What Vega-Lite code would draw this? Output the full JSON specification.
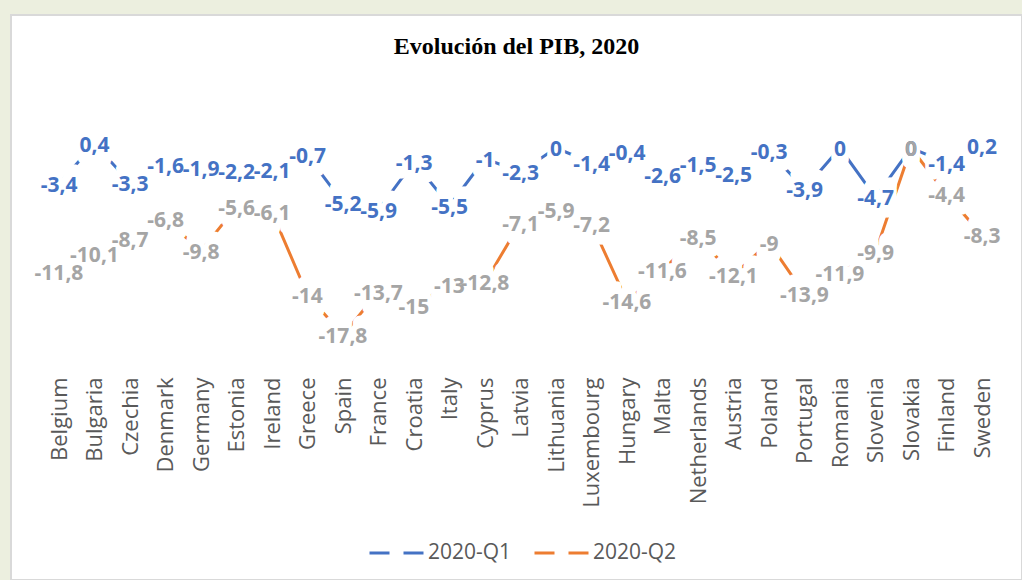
{
  "$schema": "https://vega.github.io/schema/vega-lite/v6.json",
  "width": 1011,
  "height": 565,
  "autosize": "none",
  "padding": {"left": 11, "top": 15, "right": 0, "bottom": 0},
  "background": "#ECEFDF",
  "config": {
    "view": {"fill": "#FFFFFF", "stroke": "#D9D9D9", "strokeWidth": 2},
    "locale": {"number": {"decimal": ",", "thousands": ".", "grouping": [3], "currency": ["", " €"], "minus": "-"}}
  },
  "title": {"text": "Evolución del PIB, 2020", "font": "Liberation Serif", "fontSize": 24, "fontWeight": "bold", "color": "#000000", "anchor": "middle", "offset": -63, "baseline": "alphabetic"},
  "data": {"values": [
    {"country": "Belgium", "series": "2020-Q1", "value": -3.4}, {"country": "Belgium", "series": "2020-Q2", "value": -11.8},
    {"country": "Bulgaria", "series": "2020-Q1", "value": 0.4}, {"country": "Bulgaria", "series": "2020-Q2", "value": -10.1},
    {"country": "Czechia", "series": "2020-Q1", "value": -3.3}, {"country": "Czechia", "series": "2020-Q2", "value": -8.7},
    {"country": "Denmark", "series": "2020-Q1", "value": -1.6}, {"country": "Denmark", "series": "2020-Q2", "value": -6.8},
    {"country": "Germany", "series": "2020-Q1", "value": -1.9}, {"country": "Germany", "series": "2020-Q2", "value": -9.8},
    {"country": "Estonia", "series": "2020-Q1", "value": -2.2}, {"country": "Estonia", "series": "2020-Q2", "value": -5.6},
    {"country": "Ireland", "series": "2020-Q1", "value": -2.1}, {"country": "Ireland", "series": "2020-Q2", "value": -6.1},
    {"country": "Greece", "series": "2020-Q1", "value": -0.7}, {"country": "Greece", "series": "2020-Q2", "value": -14},
    {"country": "Spain", "series": "2020-Q1", "value": -5.2}, {"country": "Spain", "series": "2020-Q2", "value": -17.8},
    {"country": "France", "series": "2020-Q1", "value": -5.9}, {"country": "France", "series": "2020-Q2", "value": -13.7},
    {"country": "Croatia", "series": "2020-Q1", "value": -1.3}, {"country": "Croatia", "series": "2020-Q2", "value": -15},
    {"country": "Italy", "series": "2020-Q1", "value": -5.5}, {"country": "Italy", "series": "2020-Q2", "value": -13},
    {"country": "Cyprus", "series": "2020-Q1", "value": -1}, {"country": "Cyprus", "series": "2020-Q2", "value": -12.8},
    {"country": "Latvia", "series": "2020-Q1", "value": -2.3}, {"country": "Latvia", "series": "2020-Q2", "value": -7.1},
    {"country": "Lithuania", "series": "2020-Q1", "value": 0}, {"country": "Lithuania", "series": "2020-Q2", "value": -5.9},
    {"country": "Luxembourg", "series": "2020-Q1", "value": -1.4}, {"country": "Luxembourg", "series": "2020-Q2", "value": -7.2},
    {"country": "Hungary", "series": "2020-Q1", "value": -0.4}, {"country": "Hungary", "series": "2020-Q2", "value": -14.6},
    {"country": "Malta", "series": "2020-Q1", "value": -2.6}, {"country": "Malta", "series": "2020-Q2", "value": -11.6},
    {"country": "Netherlands", "series": "2020-Q1", "value": -1.5}, {"country": "Netherlands", "series": "2020-Q2", "value": -8.5},
    {"country": "Austria", "series": "2020-Q1", "value": -2.5}, {"country": "Austria", "series": "2020-Q2", "value": -12.1},
    {"country": "Poland", "series": "2020-Q1", "value": -0.3}, {"country": "Poland", "series": "2020-Q2", "value": -9},
    {"country": "Portugal", "series": "2020-Q1", "value": -3.9}, {"country": "Portugal", "series": "2020-Q2", "value": -13.9},
    {"country": "Romania", "series": "2020-Q1", "value": 0}, {"country": "Romania", "series": "2020-Q2", "value": -11.9},
    {"country": "Slovenia", "series": "2020-Q1", "value": -4.7}, {"country": "Slovenia", "series": "2020-Q2", "value": -9.9},
    {"country": "Slovakia", "series": "2020-Q1", "value": 0}, {"country": "Slovakia", "series": "2020-Q2", "value": 0},
    {"country": "Finland", "series": "2020-Q1", "value": -1.4}, {"country": "Finland", "series": "2020-Q2", "value": -4.4},
    {"country": "Sweden", "series": "2020-Q1", "value": 0.2}, {"country": "Sweden", "series": "2020-Q2", "value": -8.3}
  ]},
  "encoding": {
    "x": {
      "field": "country", "type": "nominal",
      "scale": {"type": "point", "range": [48, 971], "padding": 0, "domain": ["Belgium", "Bulgaria", "Czechia", "Denmark", "Germany", "Estonia", "Ireland", "Greece", "Spain", "France", "Croatia", "Italy", "Cyprus", "Latvia", "Lithuania", "Luxembourg", "Hungary", "Malta", "Netherlands", "Austria", "Poland", "Portugal", "Romania", "Slovenia", "Slovakia", "Finland", "Sweden"]},
      "axis": {"title": null, "labelAngle": -90, "labelFont": "Open Sans", "labelFontSize": 22, "labelColor": "#595959", "ticks": false, "tickSize": 0, "domain": false, "grid": false, "labelPadding": 0, "offset": -203, "labelLimit": 300, "labelOverlap": false}
    },
    "y": {"field": "value", "type": "quantitative", "scale": {"domain": [-20, 2], "range": [343, 112], "nice": false, "zero": false}, "axis": null}
  },
  "layer": [
    {
      "data": {"values": [{}]},
      "mark": {"type": "rule", "color": "#D9D9D9", "strokeWidth": 1.5, "xOffset": -18, "x2Offset": 17},
      "encoding": {"x": {"datum": "Belgium"}, "x2": {"datum": "Sweden"}, "y": {"datum": 0}}
    },
    {
      "mark": {"type": "line", "strokeWidth": 3, "strokeCap": "butt"},
      "encoding": {
        "color": {"field": "series", "type": "nominal", "scale": {"domain": ["2020-Q1", "2020-Q2"], "range": ["#4472C4", "#ED7D31"]},
          "legend": {"title": null, "orient": "none", "legendX": 357, "legendY": 509, "direction": "horizontal", "symbolType": "stroke", "symbolSize": 3025, "symbolStrokeWidth": 3, "symbolDash": [20, 14], "labelFont": "Open Sans", "labelFontSize": 21, "labelColor": "#595959", "labelOffset": 2, "columnPadding": 16}}
      }
    },
    {"mark": {"type": "text", "font": "Open Sans", "fontSize": 21, "fontWeight": "bold", "fill": "#FFFFFF", "stroke": "#FFFFFF", "strokeWidth": 7, "strokeJoin": "round", "dy": -7}, "encoding": {"text": {"field": "value", "type": "quantitative", "format": ".1~f"}}},
    {"mark": {"type": "text", "font": "Open Sans", "fontSize": 21, "fontWeight": "bold", "fill": "#FFFFFF", "stroke": "#FFFFFF", "strokeWidth": 7, "strokeJoin": "round", "dy": -3}, "encoding": {"text": {"field": "value", "type": "quantitative", "format": ".1~f"}}},
    {"mark": {"type": "text", "font": "Open Sans", "fontSize": 21, "fontWeight": "bold", "fill": "#FFFFFF", "stroke": "#FFFFFF", "strokeWidth": 7, "strokeJoin": "round", "dy": 2}, "encoding": {"text": {"field": "value", "type": "quantitative", "format": ".1~f"}}},
    {"mark": {"type": "text", "font": "Open Sans", "fontSize": 21, "fontWeight": "bold", "fill": "#FFFFFF", "stroke": "#FFFFFF", "strokeWidth": 7, "strokeJoin": "round", "dy": 7}, "encoding": {"text": {"field": "value", "type": "quantitative", "format": ".1~f"}}},
    {"mark": {"type": "text", "font": "Open Sans", "fontSize": 21, "fontWeight": "bold", "fill": "#FFFFFF", "stroke": "#FFFFFF", "strokeWidth": 7, "strokeJoin": "round", "dy": 11}, "encoding": {"text": {"field": "value", "type": "quantitative", "format": ".1~f"}}},
    {
      "mark": {"type": "text", "font": "Open Sans", "fontSize": 21, "fontWeight": "bold", "dy": 2},
      "encoding": {
        "text": {"field": "value", "type": "quantitative", "format": ".1~f"},
        "color": {"condition": {"test": "datum.series === '2020-Q1'", "value": "#4472C4"}, "value": "#A5A5A5"}
      }
    }
  ]
}
